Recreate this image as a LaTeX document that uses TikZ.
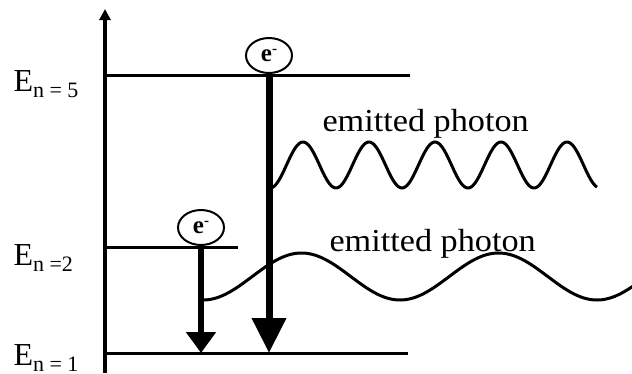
\documentclass[tikz,border=0pt]{standalone}
\usepackage{fontspec}
\setmainfont{Liberation Serif}
\newfontfamily\photonfont[FakeStretch=1.07]{Liberation Serif}
\usetikzlibrary{arrows.meta,shapes.geometric}

\newcommand{\Elev}[1]{{\fontsize{32}{32}\selectfont E}{\fontsize{22}{22}\selectfont\raisebox{-6.5pt}{#1}}}
\newcommand{\elec}{{\fontsize{25}{25}\selectfont\bfseries e\raisebox{8pt}{\fontsize{15}{15}\selectfont -}}}

\begin{document}
\begin{tikzpicture}[x=1pt, y=-1pt, line width=3pt,
	electron/.style={draw, ellipse, line width=2pt, minimum width=46pt, minimum height=35pt, inner sep=0pt, anchor=south},
	level label/.style={anchor=base west, inner sep=0pt},
	photon/.style={line width=3pt, smooth, samples=200},
	photon label/.style={anchor=base west, inner sep=0pt, font=\photonfont\fontsize{32}{32}\selectfont}]
	\useasboundingbox (0,0) rectangle (632,373);
	% energy axis
	\coordinate (axbot) at (105,373);
	\coordinate (axtop) at (105,9);
	\draw[line width=4pt, -{Triangle[length=11pt,width=11pt]}] (axbot) -- (axtop);
	% levels
	\draw (105,75) -- (410,75);
	\draw (105,247) -- (238,247);
	\draw (105,353) -- (408,353);
	\node[level label] (E5) at (12,91) {\Elev{n = 5}};
	\node[level label] (E2) at (12,265) {\Elev{n =2}};
	\node[level label] (E1) at (12,365) {\Elev{n = 1}};
	% electrons and transitions
	\node[electron] (e5) at (269,74) {\elec};
	\node[electron] (e2) at (201,246) {\elec};
	\coordinate (t5) at (269,353);
	\coordinate (t2) at (201,353);
	\draw[line width=7pt, -{Triangle[length=35pt,width=33pt]}] (e5.south) -- (t5);
	\draw[line width=5.5pt, -{Triangle[length=21pt,width=29pt]}] (e2.south) -- (t2);
	% photons
	\draw[photon] plot[domain=271:597] (\x, {165+23*cos((\x-270)/66*360)});
	\draw[photon] plot[domain=204:634] (\x, {276.5+23.5*cos((\x-203)/197*360)});
	\node[photon label] (p5) at (321,131) {emitted photon};
	\node[photon label] (p2) at (328,251) {emitted photon};
\end{tikzpicture}
\end{document}
